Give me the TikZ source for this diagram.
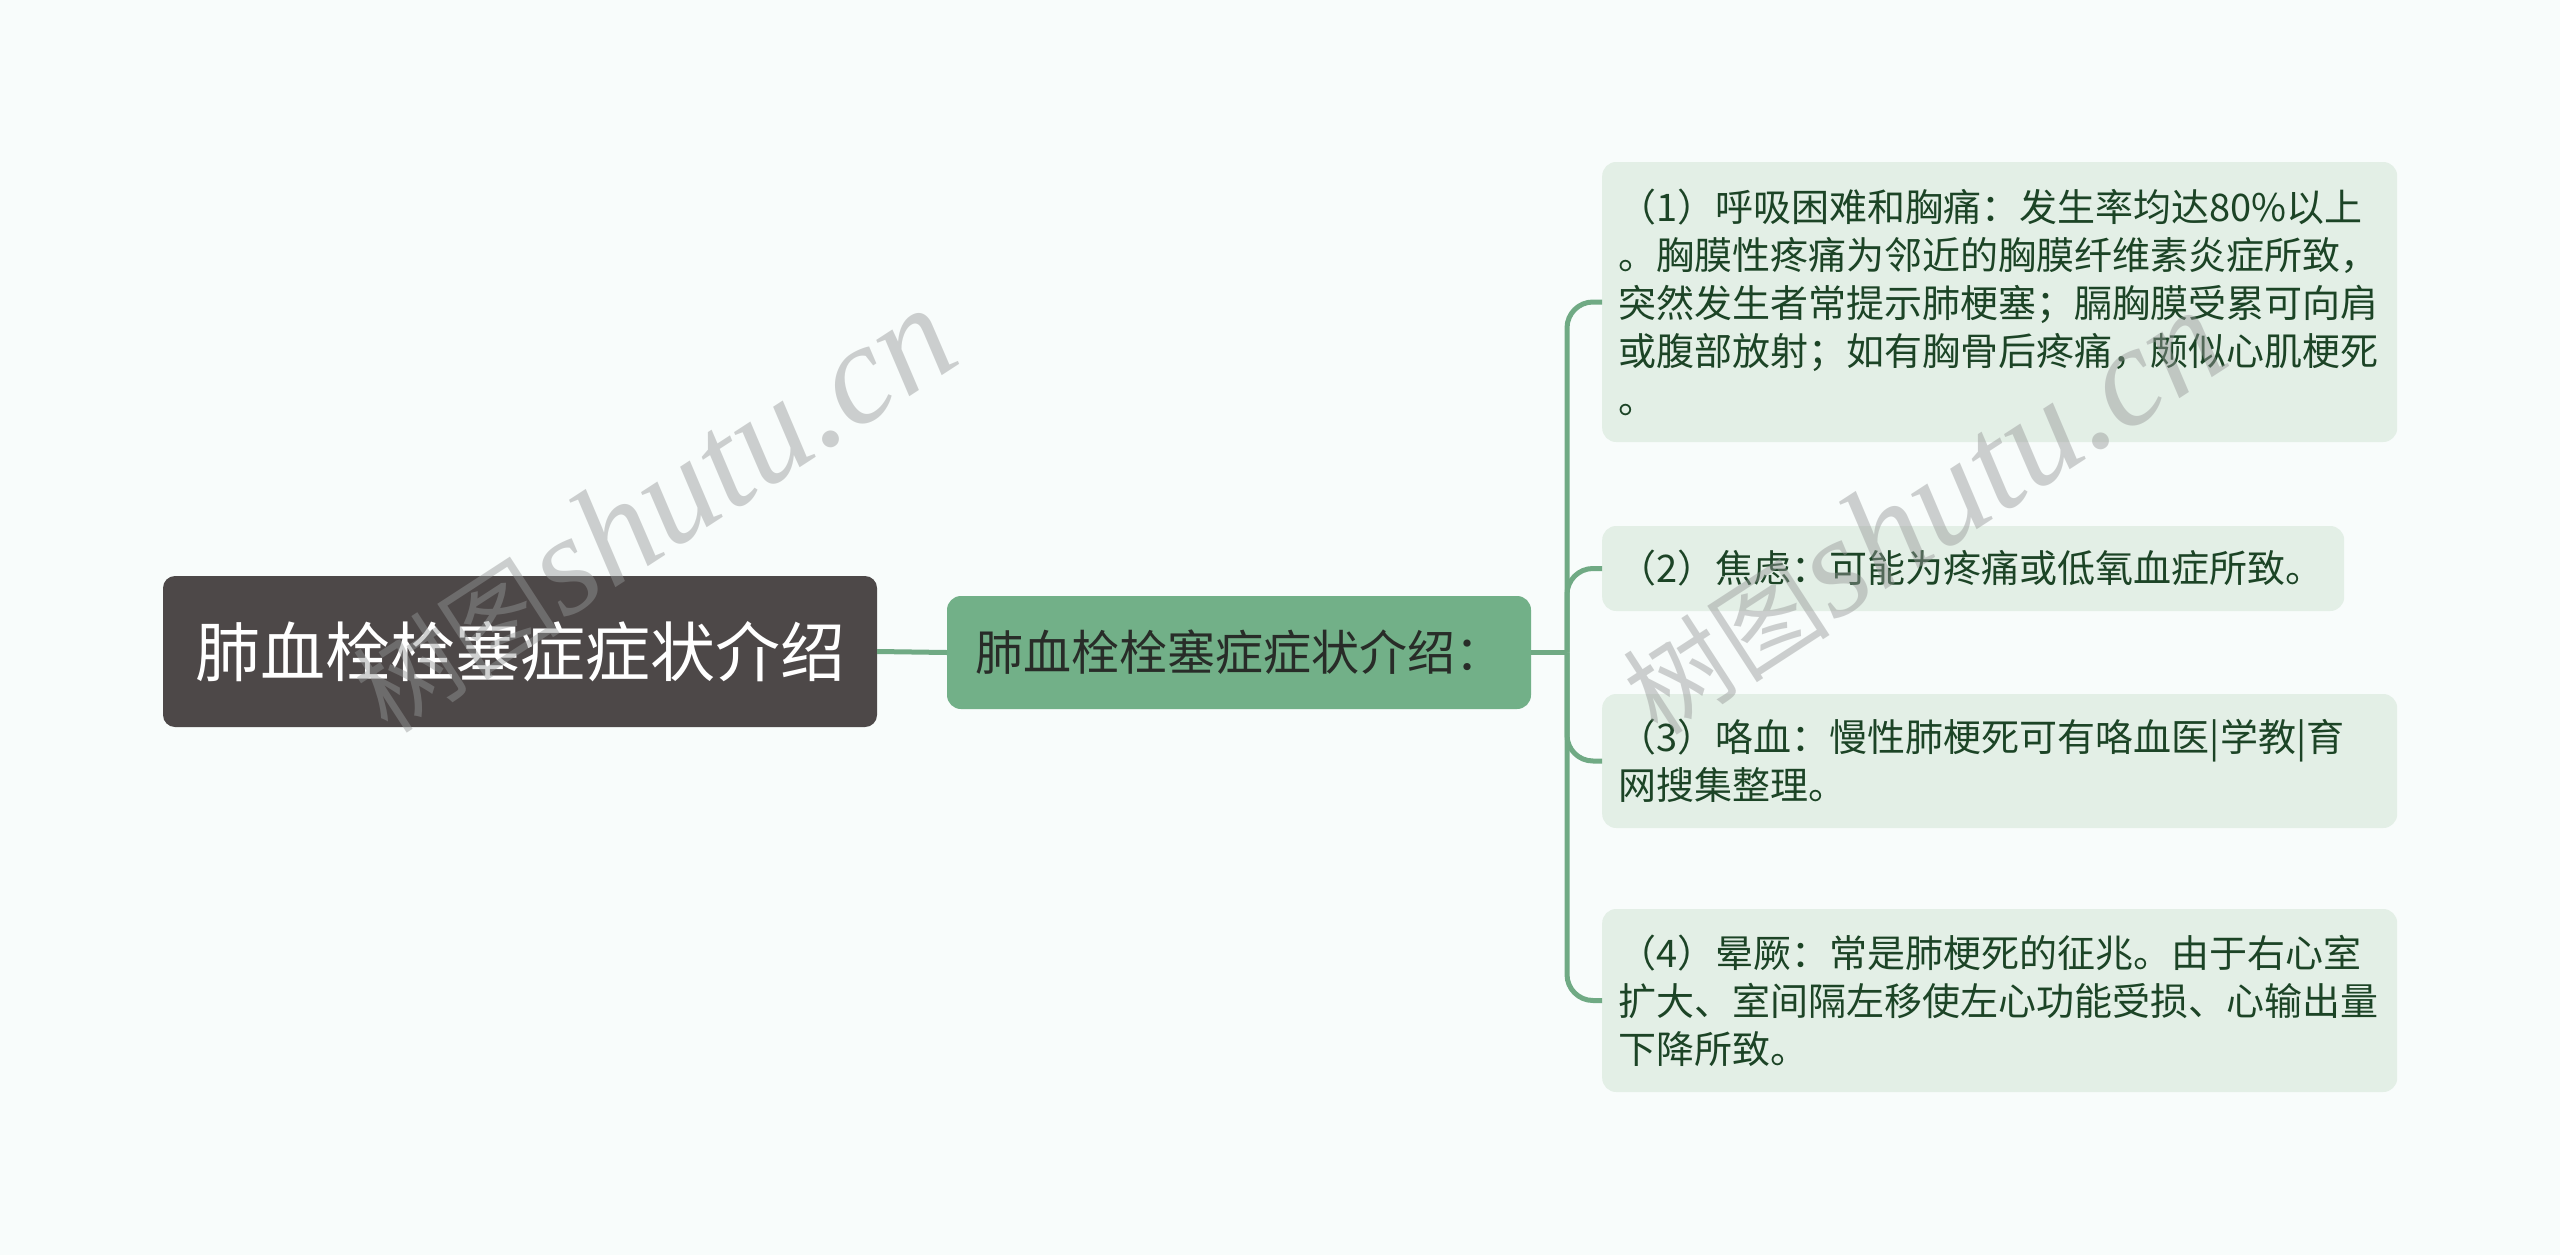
\documentclass[tikz,border=0pt]{standalone}
\usepackage{fontspec}
\setmainfont{Liberation Serif}
\newfontfamily\cjk{Noto Sans CJK SC}
\newfontfamily\wmlatin{Liberation Serif}
\usetikzlibrary{calc}
\definecolor{bgc}{RGB}{248,252,251}
\definecolor{rootc}{RGB}{77,72,72}
\definecolor{midc}{RGB}{114,176,136}
\definecolor{leafc}{RGB}{227,239,230}
\definecolor{leaftext}{RGB}{28,68,38}
\definecolor{midtext}{RGB}{40,44,40}
\definecolor{linec}{RGB}{112,170,132}
\definecolor{wmc}{RGB}{150,152,152}
\tikzset{
  rootbox/.style={fill=rootc, rounded corners=12pt, text=white, inner sep=0pt,
    minimum width=714pt, minimum height=151pt, font=\cjk\fontsize{65}{78}\selectfont},
  midbox/.style={fill=midc, rounded corners=14pt, text=midtext, inner sep=0pt,
    minimum width=584pt, minimum height=113pt, font=\cjk\fontsize{48}{58}\selectfont},
  leafbox/.style={fill=leafc, rounded corners=14pt, text=leaftext, anchor=west,
    inner xsep=16.5pt, inner ysep=0pt, align=left,
    font=\cjk\fontsize{38}{48}\selectfont},
  conn/.style={draw=linec, line width=5pt},
  wm/.style={text=wmc, opacity=0.45, rotate=33, inner sep=0pt}
}
\begin{document}
\begin{tikzpicture}[x=1pt, y=-1pt]
\fill[bgc] (0,0) rectangle (2560,1255);
\useasboundingbox (0,0) rectangle (2560,1255);

\node[rootbox] (root) at (520,651.5) {肺血栓栓塞症症状介绍};
\node[midbox] (mid) at (1239,652.5) {肺血栓栓塞症症状介绍：};

\node[leafbox, text width=762pt, minimum height=280pt] (l1) at (1602,302)
  {（1）呼吸困难和胸痛：发生率均达80\%以上\\。胸膜性疼痛为邻近的胸膜纤维素炎症所致，\\突然发生者常提示肺梗塞；膈胸膜受累可向肩\\或腹部放射；如有胸骨后疼痛，颇似心肌梗死\\。};
\node[leafbox, text width=709pt, minimum height=85pt] (l2) at (1602,568.5)
  {（2）焦虑：可能为疼痛或低氧血症所致。};
\node[leafbox, text width=762pt, minimum height=134pt] (l3) at (1602,761)
  {（3）咯血：慢性肺梗死可有咯血医|学教|育\\网搜集整理。};
\node[leafbox, text width=762pt, minimum height=183pt] (l4) at (1602,1000.5)
  {（4）晕厥：常是肺梗死的征兆。由于右心室\\扩大、室间隔左移使左心功能受损、心输出量\\下降所致。};

\coordinate (j) at (1567,652.5);
\draw[conn] (root.east) -- (mid.west);
\draw[conn] (mid.east) -- (j);
\foreach \n in {l1,l2,l3,l4}{
  \draw[conn, rounded corners=26pt] (j) |- (\n.west);
}

\node[wm] (wm1) at (652,510) {{\cjk\fontsize{104}{110}\selectfont 树图} {\wmlatin\itshape\fontsize{142}{150}\selectfont shutu.cn}};
\node[wm] (wm2) at (1922,512) {{\cjk\fontsize{104}{110}\selectfont 树图} {\wmlatin\itshape\fontsize{142}{150}\selectfont shutu.cn}};
\end{tikzpicture}
\end{document}
